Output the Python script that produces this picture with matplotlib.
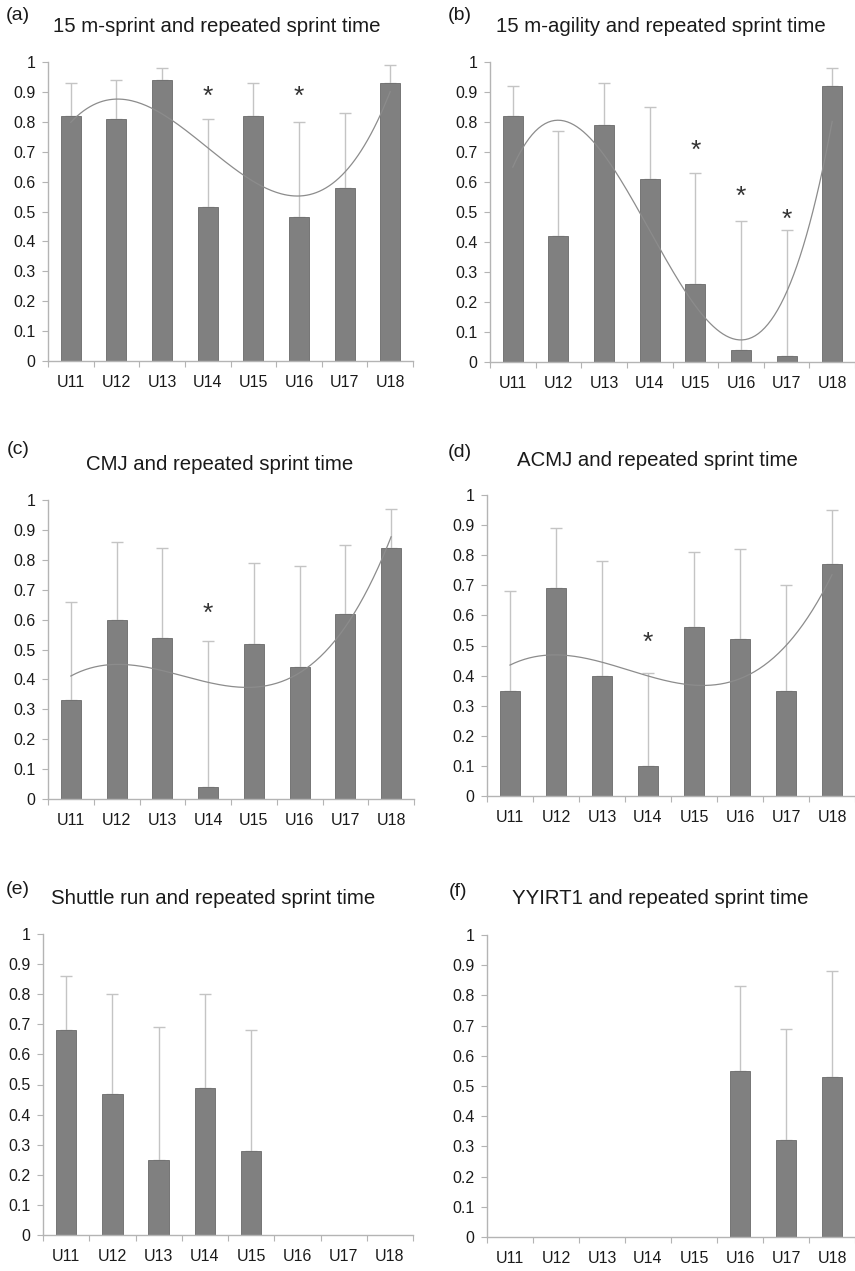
import numpy as np
import matplotlib
matplotlib.use("Agg")
import matplotlib.pyplot as plt
from matplotlib.ticker import FuncFormatter, FixedLocator

plt.rcParams['font.family'] = ['Liberation Sans', 'DejaVu Sans']

groups = ["U11", "U12", "U13", "U14", "U15", "U16", "U17", "U18"]
nan = np.nan

# bar heights and the tops of their (upper) error bars
sprint = [0.82, 0.81, 0.94, 0.515, 0.82, 0.483, 0.58, 0.93]
sprint_top = [0.93, 0.94, 0.98, 0.81, 0.93, 0.80, 0.83, 0.99]
agility = [0.82, 0.42, 0.79, 0.61, 0.26, 0.04, 0.02, 0.92]
agility_top = [0.92, 0.77, 0.93, 0.85, 0.63, 0.47, 0.44, 0.98]
cmj = [0.33, 0.60, 0.54, 0.04, 0.52, 0.44, 0.62, 0.84]
cmj_top = [0.66, 0.86, 0.84, 0.53, 0.79, 0.78, 0.85, 0.97]
acmj = [0.35, 0.69, 0.40, 0.10, 0.56, 0.52, 0.35, 0.77]
acmj_top = [0.68, 0.89, 0.78, 0.41, 0.81, 0.82, 0.70, 0.95]
shuttle = [0.68, 0.47, 0.25, 0.49, 0.28, nan, nan, nan]
shuttle_top = [0.86, 0.80, 0.69, 0.80, 0.68, nan, nan, nan]
yyirt = [nan, nan, nan, nan, nan, 0.55, 0.32, 0.53]
yyirt_top = [nan, nan, nan, nan, nan, 0.83, 0.69, 0.88]

# significant groups (*) and the height of the asterisk
stars_a = {"U14": 0.885, "U16": 0.885}
stars_b = {"U15": 0.705, "U16": 0.55, "U17": 0.475}
stars_c = {"U14": 0.62}
stars_d = {"U14": 0.51}

titles = ["15 m-sprint and repeated sprint time",
          "15 m-agility and repeated sprint time",
          "CMJ and repeated sprint time",
          "ACMJ and repeated sprint time",
          "Shuttle run and repeated sprint time",
          "YYIRT1 and repeated sprint time"]
letters = ["(a)", "(b)", "(c)", "(d)", "(e)", "(f)"]

W, H = 855, 1271
fig = plt.figure(figsize=(W / 100, H / 100), dpi=100)


def px_axes(left, right, top, bottom):
    return fig.add_axes([left / W, 1 - bottom / H, (right - left) / W, (bottom - top) / H])


panels = [
    # data, tops, stars, trend, axes box (l, r, t, b), title centre (x, y), letter pos (x, y)
    (sprint, sprint_top, stars_a, True, (48, 413, 62, 361), (217, 27), (18, 15)),
    (agility, agility_top, stars_b, True, (490, 855, 62, 362), (661, 27), (460, 15)),
    (cmj, cmj_top, stars_c, True, (48, 414, 500, 799), (220, 465), (18, 450)),
    (acmj, acmj_top, stars_d, True, (487, 855, 495, 796), (657, 460), (460, 452)),
    (shuttle, shuttle_top, {}, False, (43, 413, 934, 1235), (213, 899), (18, 890)),
    (yyirt, yyirt_top, {}, False, (487, 855, 935, 1237), (660, 899), (458, 892)),
]

axis_col = "#b4b4b4"
x = np.arange(len(groups))

for i, (vals, tops, stars, trend, box, tpos, lpos) in enumerate(panels):
    ax = px_axes(*box)
    vals = np.array(vals, dtype=float)
    err = np.array(tops, dtype=float) - vals
    ax.bar(x, vals, width=0.44, color="#808080", edgecolor="#6a6a6a", linewidth=0.6, zorder=2)
    ok = ~np.isnan(vals)
    ax.errorbar(x[ok], vals[ok], yerr=[np.zeros(ok.sum()), err[ok]], fmt="none",
                ecolor="#c4c4c4", elinewidth=1.0, capsize=4.5, capthick=1.0, zorder=1)
    if trend:
        coef = np.polyfit(x, vals, 3)
        xs = np.linspace(0, len(groups) - 1, 200)
        ax.plot(xs, np.polyval(coef, xs), color="#8c8c8c", lw=0.9, zorder=3)
    for g, yv in stars.items():
        ax.text(groups.index(g), yv, "*", ha="center", va="center",
                fontsize=19, color="#333333", zorder=4)

    ax.set_xlim(-0.5, len(groups) - 0.5)
    ax.set_ylim(0, 1)
    ax.set_yticks(np.arange(0, 1.01, 0.1))
    ax.yaxis.set_major_formatter(FuncFormatter(lambda v, p: "%g" % round(v, 1)))
    ax.xaxis.set_major_locator(FixedLocator(np.arange(-0.5, len(groups), 1.0)))
    ax.xaxis.set_minor_locator(FixedLocator(x))
    ax.set_xticklabels([])
    ax.set_xticks(x, minor=True)
    ax.set_xticklabels(groups, minor=True)
    ax.tick_params(axis="x", which="major", length=4, color=axis_col, direction="out")
    ax.tick_params(axis="x", which="minor", length=0, pad=10, labelsize=11.5, labelcolor="#1a1a1a")
    ax.tick_params(axis="y", length=4, color=axis_col, pad=5, labelsize=11.5, labelcolor="#1a1a1a")
    for s in ["top", "right"]:
        ax.spines[s].set_visible(False)
    for s in ["left", "bottom"]:
        ax.spines[s].set_color(axis_col)
        ax.spines[s].set_linewidth(1.0)
    ax.patch.set_alpha(0)

    fig.text(tpos[0] / W, 1 - tpos[1] / H, titles[i], ha="center", va="center",
             fontsize=14.7, color="#1a1a1a")
    fig.text(lpos[0] / W, 1 - lpos[1] / H, letters[i], ha="center", va="center",
             fontsize=14, color="#1a1a1a")

fig.savefig("out.png", dpi=100)
